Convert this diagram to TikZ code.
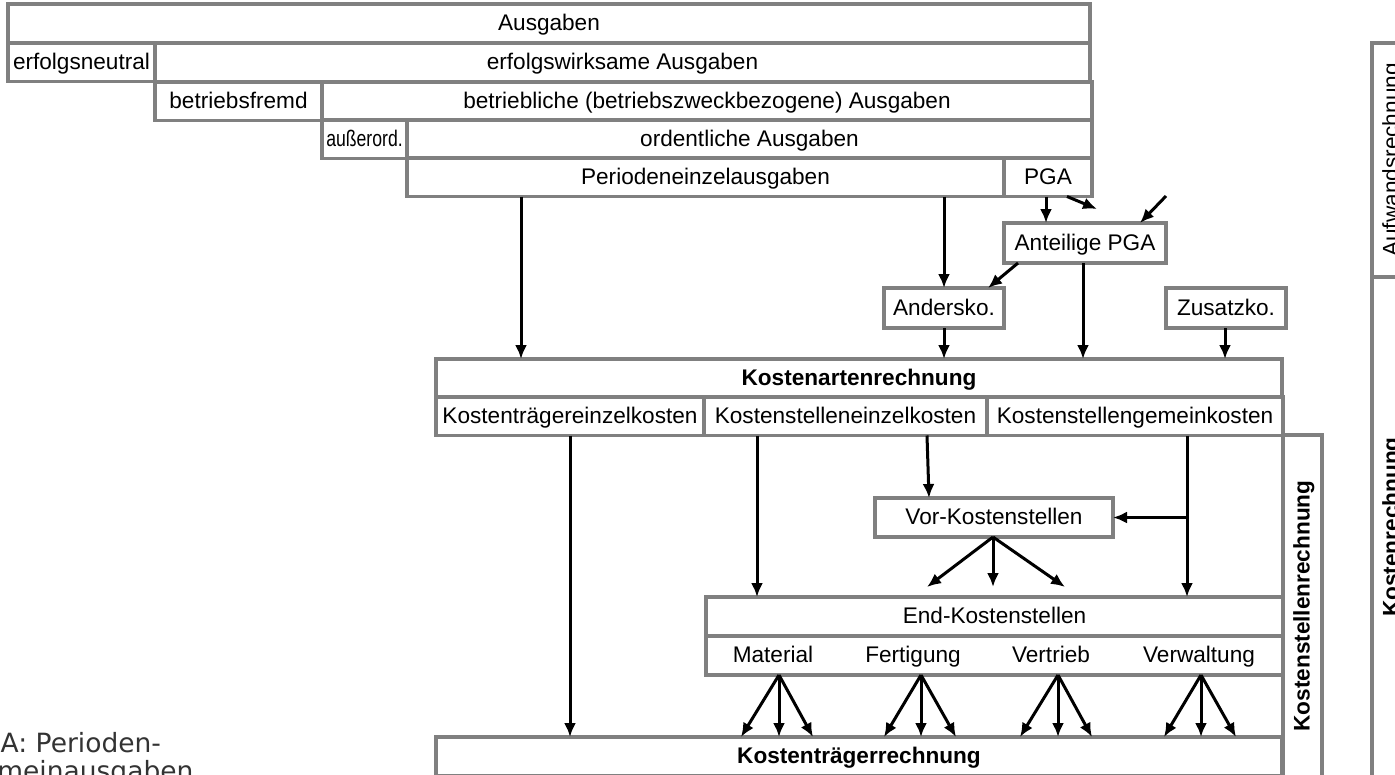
\documentclass[tikz,border=0pt]{standalone}
\usepackage{fontspec}
\usepackage{graphicx}
\setmainfont{Liberation Sans}
\newfontfamily\notefont{DejaVu Sans}
\usetikzlibrary{arrows.meta}
\definecolor{boxgray}{RGB}{128,128,128}
\begin{document}
\begin{tikzpicture}[x=1pt,y=-1pt,
    cell/.style={draw=boxgray,line width=3.5pt,rectangle,inner sep=0pt,outer sep=0pt,
      anchor=north west,minimum height=38.5pt,text height=16pt,text depth=2pt,
      font=\fontsize{22.6}{26}\selectfont},
    head/.style={cell,font=\fontsize{22.6}{26}\selectfont\bfseries},
    vcell/.style={cell,anchor=center,rotate=90,minimum height=39pt},
    lbl/.style={inner sep=0pt,text height=16pt,text depth=2pt,font=\fontsize{22.6}{26}\selectfont},
    arr/.style={-{Latex[length=14pt,width=12pt]},line width=3pt}
  ]
  \useasboundingbox (0,0) rectangle (1395,774);
  \clip (0,0) rectangle (1395,774);
  %% Ausgaben cascade
  \node[cell,minimum width=1082pt] (ausg)    at (8,4)     {Ausgaben};
  \node[cell,minimum width=147pt]  (neutral) at (8,43)    {erfolgsneutral};
  \node[cell,minimum width=935pt]  (wirks)   at (155,43)  {erfolgswirksame Ausgaben};
  \node[cell,minimum width=167pt]  (fremd)   at (155,82)  {betriebsfremd};
  \node[cell,minimum width=770pt]  (betr)    at (322,82)  {betriebliche (betriebszweckbezogene) Ausgaben};
  \node[cell,minimum width=85pt]   (ausser)  at (322,120) {\scalebox{0.78}[1]{außerord.}};
  \node[cell,minimum width=685pt]  (ordent)  at (407,120) {ordentliche Ausgaben};
  \node[cell,minimum width=597pt]  (pea)     at (407,158) {Periodeneinzelausgaben};
  \node[cell,minimum width=88pt]   (pga)     at (1004,158) {PGA};
  %% PGA split, Anders- and Zusatzkosten
  \node[cell,minimum width=162pt,minimum height=40pt] (anteil) at (1004,223) {Anteilige PGA};
  \node[cell,minimum width=120pt,minimum height=40pt] (anders) at (884,288)  {Andersko.};
  \node[cell,minimum width=120pt,minimum height=40pt] (zusatz) at (1166,288) {Zusatzko.};
  \coordinate (f1) at (1097,209);
  \coordinate (f2) at (1166,196);
  %% Kostenartenrechnung
  \node[head,minimum width=846pt] (kar) at (436,359) {Kostenartenrechnung};
  \node[cell,minimum width=268pt] (kte) at (436,397) {Kostenträgereinzelkosten};
  \node[cell,minimum width=283pt] (kse) at (704,397) {Kostenstelleneinzelkosten};
  \node[cell,minimum width=296pt] (ksg) at (987,397) {Kostenstellengemeinkosten};
  %% Kostenstellen
  \node[cell,minimum width=238pt,minimum height=39pt] (vor)    at (875,498) {Vor-Kostenstellen};
  \node[cell,minimum width=577pt,minimum height=39pt] (endk)   at (706,597) {End-Kostenstellen};
  \node[cell,minimum width=577pt,minimum height=39pt] (endsub) at (706,636) {};
  \foreach \n/\x/\t in {mat/773/Material,fert/913/Fertigung,vert/1051/Vertrieb,verw/1199/Verwaltung}
    \node[lbl] (\n) at (\x,655.5) {\t};
  \node[head,minimum width=846pt,minimum height=39pt] (ktr) at (436,737) {Kostenträgerrechnung};
  %% side columns
  \node[vcell,minimum width=342pt,font=\fontsize{22.6}{26}\selectfont\bfseries] (ksr) at (1302.5,606) {Kostenstellenrechnung};
  \node[vcell,minimum width=234pt] (auf) at (1391.5,160) {Aufwandsrechnung};
  \node[vcell,minimum width=500pt,font=\fontsize{22.6}{26}\selectfont\bfseries] (kr) at (1391.5,527) {Kostenrechnung};
  %% connectors
  \draw[arr] (pea.south -| 521,0)    -- (kar.north -| 521,0);
  \draw[arr] (pea.south -| 944,0)    -- (anders.north -| 944,0);
  \draw[arr] (pga.south -| 1046,0)   -- (anteil.north -| 1046,0);
  \draw[arr] (pga.south -| 1067,0)   -- (f1);
  \draw[arr] (f2)                    -- (anteil.north -| 1140,0);
  \draw[arr] (anteil.south -| 1018,0) -- (anders.north -| 988,0);
  \draw[arr] (anteil.south -| 1083,0) -- (kar.north -| 1083,0);
  \draw[arr] (anders.south -| 944,0) -- (kar.north -| 944,0);
  \draw[arr] (zusatz.south -| 1225,0) -- (kar.north -| 1225,0);
  \draw[arr] (kte.south -| 570,0)    -- (ktr.north -| 570,0);
  \draw[arr] (kse.south -| 757,0)    -- (endk.north -| 757,0);
  \draw[arr] (kse.south -| 927,0)    -- (vor.north -| 929,0);
  \draw[arr] (ksg.south -| 1187,0)   -- (endk.north -| 1187,0);
  \draw[arr] (vor.east -| 1187,0)    -- (vor.east);
  \foreach \e in {927,993,1065}
    \draw[arr] (vor.south -| 993,0) -- ([yshift=10pt]endk.north -| \e,0);
  \foreach \a/\l/\r in {779/741/813,921/884/956,1058/1020/1092,1201/1164/1236}
    \foreach \e in {\l,\a,\r}
      \draw[arr] (endsub.south -| \a,0) -- (ktr.north -| \e,0);
  %% footnote
  \node[font=\notefont\fontsize{26.5}{28}\selectfont,text=black!80,align=left,anchor=base west,inner sep=0pt]
    (note) at (-36,780) {PGA: Perioden-\\gemeinausgaben};
\end{tikzpicture}
\end{document}
